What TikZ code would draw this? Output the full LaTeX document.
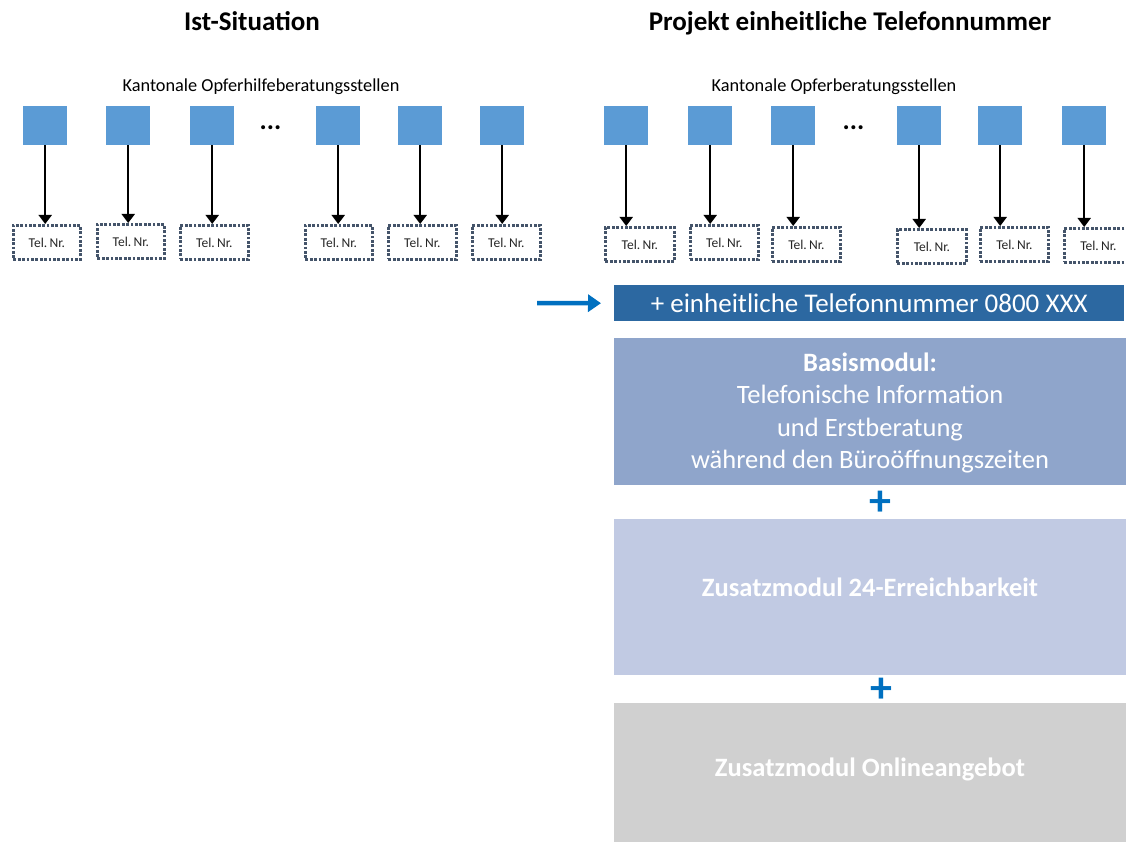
\documentclass[tikz,border=0pt]{standalone}
\usepackage{fontspec}
\setmainfont{Carlito}
\usetikzlibrary{arrows.meta}
\definecolor{sqblue}{HTML}{5B9BD5}
\definecolor{bandblue}{HTML}{2C68A1}
\definecolor{basis}{HTML}{8FA5CB}
\definecolor{zusatz}{HTML}{C1CAE3}
\definecolor{online}{HTML}{D0D0D0}
\definecolor{plusblue}{HTML}{0070C0}
\definecolor{telborder}{HTML}{44546A}
\begin{document}
\begin{tikzpicture}[x=1pt,y=-1pt,
  sq/.style={fill=sqblue, draw=none, minimum width=44pt, minimum height=39pt, inner sep=0pt, anchor=north west},
  tel/.style={draw=telborder, line width=2.8pt, dash pattern=on 2.8pt off 1.6pt,
              minimum height=34pt, inner sep=0pt, anchor=north west,
              font=\fontsize{13.5}{13.5}\selectfont, text=black!85},
  conn/.style={line width=2pt, -{Triangle[width=13pt,length=9pt]}},
  title/.style={font=\fontsize{27}{27}\selectfont\bfseries, anchor=base},
  label/.style={font=\fontsize{18.3}{18.3}\selectfont, anchor=base},
  dots/.style={font=\fontsize{27}{27}\selectfont\bfseries, anchor=base},
  module/.style={draw=none, inner sep=0pt, anchor=north west, minimum width=512pt},
  modtext/.style={text=white, align=center, font=\fontsize{26.5}{32.5}\selectfont},
  plus/.style={text=plusblue, font=\fontsize{44}{44}\selectfont\bfseries, inner sep=0pt},
  bluearrow/.style={draw=plusblue, line width=4.5pt, -{Triangle[width=17pt,length=13pt]}}
]
\useasboundingbox (0,0) rectangle (1126,842);

% titles
\node[title] (t1) at (252,31) {Ist-Situation};
\node[title] (t2) at (850,31) {Projekt einheitliche Telefonnummer};
\node[label] (k1) at (261,92) {Kantonale Opferhilfeberatungsstellen};
\node[label] (k2) at (834,92) {Kantonale Opferberatungsstellen};

% left side
\foreach \i/\sx/\tx/\ty/\tw in {1/23/12/224/67, 2/106/96/223/67, 3/190/179/224/68,
                                4/316/304/224/67, 5/398/387/224/68, 6/480/471/224/68}{
  \node[sq] (L\i) at (\sx,106) {};
  \node[tel, minimum width=\tw pt] (LT\i) at (\tx,\ty) {Tel.\,Nr.};
  \draw[conn] (L\i.south) -- (L\i.south |- LT\i.north);
}
\node[dots] (d1) at (270.5,129.5) {...};

% right side
\foreach \i/\sx/\tx/\ty/\tw in {1/604/604/226/69, 2/688/689/224/68, 3/771/771/226/68,
                                4/897/896/228/69, 5/978/979/226/68, 6/1062/1063/227/68}{
  \node[sq] (R\i) at (\sx,106) {};
  \node[tel, minimum width=\tw pt] (RT\i) at (\tx,\ty) {Tel.\,Nr.};
  \draw[conn] (R\i.south) -- (R\i.south |- RT\i.north);
}
\node[dots] (d2) at (853.5,129.5) {...};

% band
\node[module, fill=bandblue, minimum width=510pt, minimum height=36pt, text=white,
      font=\fontsize{27}{27}\selectfont] (band) at (614,285) {+ einheitliche Telefonnummer 0800 XXX};
\coordinate (astart) at (537,303);
\draw[bluearrow] (astart) -- ([xshift=-13pt]band.west);

% modules
\node[module, fill=basis, minimum height=147pt] (basis) at (614,338) {};
\node[modtext] (basistext) at (870,413) {\textbf{Basismodul:}\\Telefonische Information\\und Erstberatung\\während den Büroöffnungszeiten};

\node[plus] (p1) at (880.5,503) {+};

\node[module, fill=zusatz, minimum height=156pt] (zus) at (614,519) {};
\node[modtext, font=\fontsize{26.5}{32.5}\selectfont\bfseries] (zustext) at (870,587) {Zusatzmodul 24-Erreichbarkeit};

\node[plus] (p2) at (881,690) {+};

\node[module, fill=online, minimum height=140pt] (onl) at (614,703) {};
\node[modtext, font=\fontsize{26.5}{32.5}\selectfont\bfseries] (onltext) at (870,769) {Zusatzmodul Onlineangebot};
\end{tikzpicture}
\end{document}
